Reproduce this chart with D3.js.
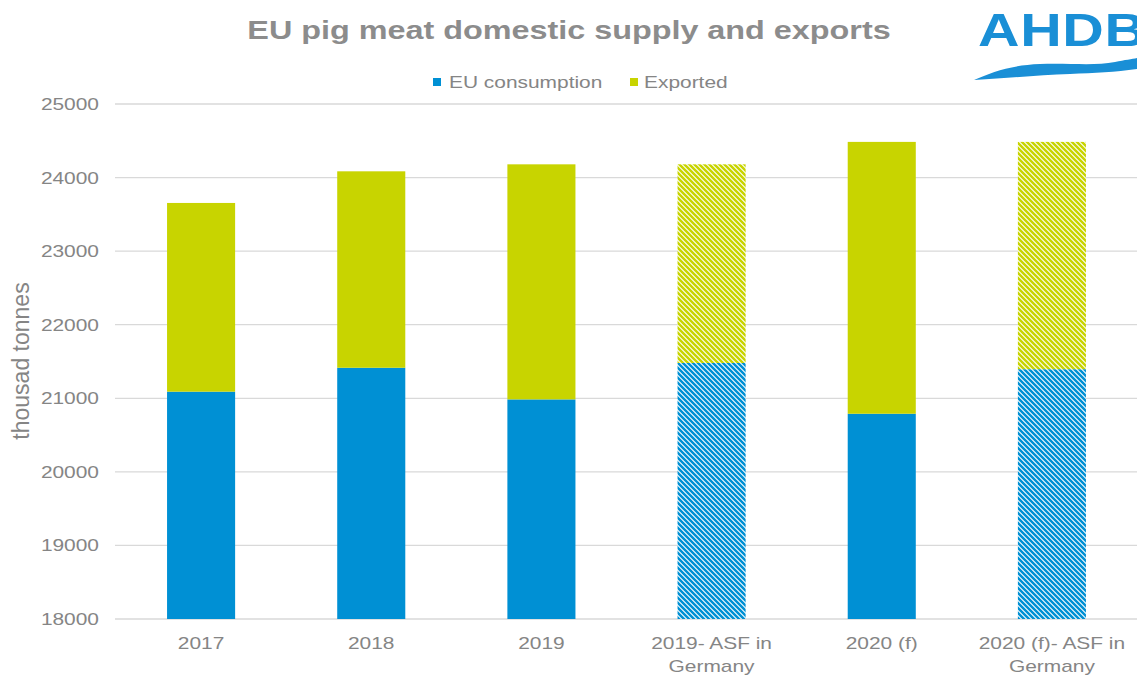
<!DOCTYPE html>
<html><head><meta charset="utf-8">
<script src="https://cdn.jsdelivr.net/npm/d3@7"></script>
<style>
html,body{margin:0;padding:0;background:#fff;}
svg{display:block;font-family:"Liberation Sans",Arial,sans-serif;}
</style></head>
<body><svg id="chart" width="1137" height="676"></svg>
<script>
const title = "EU pig meat domestic supply and exports";
const categories = ["2017","2018","2019","2019- ASF in Germany","2020 (f)","2020 (f)- ASF in Germany"];
const categoryLines = [["2017"],["2018"],["2019"],["2019- ASF in","Germany"],["2020 (f)"],["2020 (f)- ASF in","Germany"]];
const seriesNames = ["EU consumption","Exported"];
const consumption = [21090, 21415, 20985, 21480, 20790, 21395];
const exported = [2565, 2670, 3195, 2700, 3695, 3090];
const hatched = [false, false, false, true, false, true];
const yTicks = [18000,19000,20000,21000,22000,23000,24000,25000];
const yTitle = "thousad tonnes";

const colors = ["#0090D4", "#C8D400"];
const SX = 1.23;
const textGray = "#858585";

const svg = d3.select("#chart");
const defs = svg.append("defs");
colors.forEach((c,i)=>{
  const p = defs.append("pattern").attr("id","hatch"+i)
    .attr("patternUnits","userSpaceOnUse").attr("width",5).attr("height",5);
  p.append("rect").attr("width",5).attr("height",5).attr("fill","#fff");
  p.append("path").attr("d","M0,0L5,5M-1,4L1,6M4,-1L6,1")
    .attr("stroke",c).attr("stroke-width",2.5).attr("stroke-linecap","square");
});

const x = d3.scaleBand().domain(categories).range([116,1137]).paddingInner(0.6).paddingOuter(0.3);
const y = d3.scaleLinear().domain([18000,25000]).range([619,104]);

function stext(g, tx, ty, txt, size, anchor, fill, weight){
  return g.append("text").attr("transform",`translate(${tx},${ty}) scale(${SX},1)`)
    .attr("text-anchor",anchor).attr("font-size",size).attr("fill",fill)
    .attr("font-weight",weight||"normal").text(txt);
}

// gridlines
svg.append("g").selectAll("line").data(yTicks).join("line")
  .attr("x1",115).attr("x2",1137).attr("y1",d=>y(d)).attr("y2",d=>y(d))
  .attr("stroke","#D9D9D9").attr("stroke-width",1.3);

// y tick labels
const yl = svg.append("g");
yTicks.forEach(t=> stext(yl, 99, y(t)+6, String(t), 17, "end", textGray));

// y title
svg.append("text").attr("transform","translate(29,361) rotate(-90)")
  .attr("text-anchor","middle").attr("font-size",23).attr("fill",textGray).text(yTitle);

// bars
const data = categories.map((c,i)=>({c, cons:consumption[i], exp:exported[i], h:hatched[i]}));
const bars = svg.append("g");
bars.selectAll("rect.cons").data(data).join("rect").attr("class","cons")
  .attr("x",d=>x(d.c)).attr("width",x.bandwidth())
  .attr("y",d=>y(d.cons)).attr("height",d=>y(18000)-y(d.cons))
  .attr("fill",d=>d.h?"url(#hatch0)":colors[0]);
bars.selectAll("rect.exp").data(data).join("rect").attr("class","exp")
  .attr("x",d=>x(d.c)).attr("width",x.bandwidth())
  .attr("y",d=>y(d.cons+d.exp)).attr("height",d=>y(d.cons)-y(d.cons+d.exp))
  .attr("fill",d=>d.h?"url(#hatch1)":colors[1]);

// x labels
const xl = svg.append("g");
categories.forEach((c,i)=>{
  categoryLines[i].forEach((ln,j)=> stext(xl, x(c)+x.bandwidth()/2, 649+j*23, ln, 17, "middle", textGray));
});

// title
stext(svg, 569, 39, title, 26.3, "middle", "#8C8C8C", "bold");

// legend
const legX = [433, 630];
const legT = [16, 14];
const lg = svg.append("g");
seriesNames.forEach((n,i)=>{
  lg.append("rect").attr("x",legX[i]).attr("y",78).attr("width",8).attr("height",8).attr("fill",colors[i]);
  stext(lg, legX[i]+legT[i], 88, n, 17, "start", textGray);
});

// AHDB logo
const logo = svg.append("g");
logo.append("text").attr("transform","translate(978,46) scale(1.25,1.02)")
  .attr("font-size",46).attr("font-weight","bold").attr("fill","#1A8FD6")
  .attr("letter-spacing",0.5).text("AHDB");
logo.append("path")
  .attr("d","M974,80 C992,72 1012,65 1040,64 C1070,63 1095,66 1115,62 C1125,60 1132,59 1137,58 L1137,69 C1115,72 1095,73 1070,74 C1040,75 1010,78 974,80 Z")
  .attr("fill","#1A8FD6");
</script></body></html>
